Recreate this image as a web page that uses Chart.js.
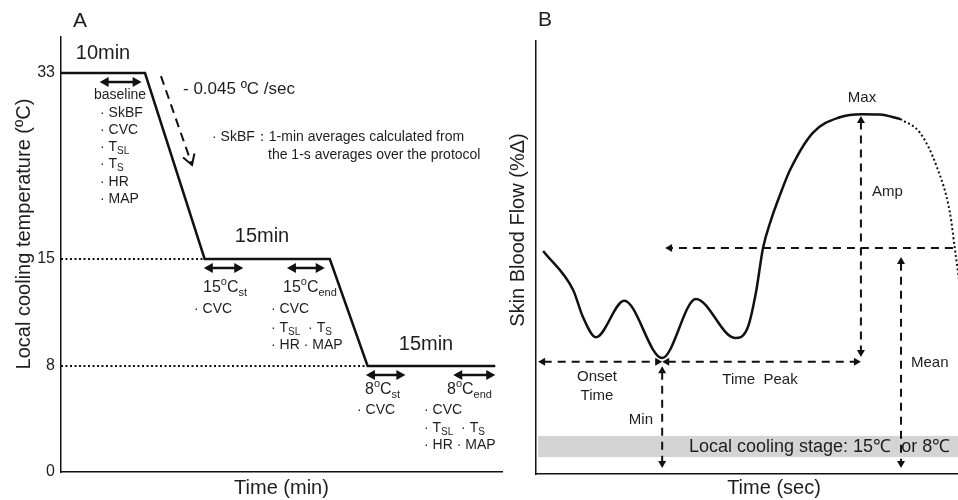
<!DOCTYPE html>
<html>
<head>
<meta charset="utf-8">
<script src="https://cdn.jsdelivr.net/npm/chart.js@4.4.1/dist/chart.umd.min.js"></script>
<style>
  html, body { margin: 0; padding: 0; background: #fff; overflow: hidden; }
  #wrap { position: relative; width: 958px; height: 500px; overflow: hidden; }
  #cA { position: absolute; left: 0; top: 0; }
  #cB { position: absolute; left: 478px; top: 0; }
</style>
</head>
<body>
<div id="wrap">
  <canvas id="cA" width="510" height="500"></canvas>
  <canvas id="cB" width="534" height="500"></canvas>
</div>
<script>
// ---- Panel A: local cooling protocol ----
const protoTime = [0, 10, 17.1, 32, 36.5, 51.7]      // min
const protoTemp = [33, 33, 15, 15, 8, 8]             // °C
const tempTicks = [0, 8, 15, 33]
const guideTemp = [15, 8]                            // dotted guides to the axis
const guideEnd = [17.1, 36.5]
const windowStart = [4.6, 17.0, 26.9, 36.3, 46.7]    // averaging windows (min)
const windowEnd = [9.6, 21.7, 31.4, 41.0, 51.7]
const windowTemp = [33, 15, 15, 8, 8]
const rampFrom = [11.9, 32.7]                         // "-0.045 °C/sec" arrow
const rampTo = [15.6, 24.1]

// ---- Panel B: skin blood flow response (schematic units) ----
const flowTime = [1.7, 8.8, 11.1, 14.2, 20.9, 29.9, 37.9, 47.2, 50.2, 52.1, 53.8, 55.7, 57.8, 60.2, 65.6, 72.0, 77.3, 81.5, 86.3]
const flowValue = [51.5, 42.5, 36.3, 31.6, 40.0, 26.8, 40.4, 31.4, 33.9, 41.8, 52.2, 58.7, 64.4, 70.2, 78.8, 82.4, 83.1, 83.0, 82.0]
const fadeTime = [86.3, 91.0, 95.0, 98.1, 99.3, 100.9]
const fadeValue = [82.0, 78.8, 70.9, 60.3, 51.7, 40.2]
const onsetX = 0.5, minX = 29.9, peakX = 77.0, meanX = 86.5
const timeY = 25.9, minTop = 24.9, floorY = 1.4
const ampTop = 82.7, ampBottom = 27.0
const meanY = 52.2, meanFrom = 98.8, meanTo = 30.6, meanTop = 50.1
const bandLow = 3.9, bandHigh = 8.8

const FONT = '"Liberation Sans", Arial, sans-serif'
const INK = "#1e1e1e"
Chart.defaults.font.family = FONT
Chart.defaults.color = INK

// schematic (non-linear) temperature axis
const stepStops = [0, 8, 15, 33, 36]
const stepFracs = [0, 0.2437, 0.4897, 0.9172, 1]
class StepScale extends Chart.LinearScale {
  static id = "step"
  static defaults = {}
  getPixelForValue(v) {
    if (v === null || isNaN(v)) return NaN
    let d = stepFracs[stepFracs.length - 1]
    if (v <= stepStops[0]) d = stepFracs[0]
    else {
      for (let i = 1; i < stepStops.length; i++) {
        if (v <= stepStops[i]) {
          d = stepFracs[i - 1] + (v - stepStops[i - 1]) / (stepStops[i] - stepStops[i - 1]) * (stepFracs[i] - stepFracs[i - 1])
          break
        }
      }
    }
    return this.getPixelForDecimal(d)
  }
}
Chart.register(StepScale)

// text with _{sub} and ^{sup}
function rich(ctx, str, x, y, size, align) {
  const segs = []
  const re = /([_^])\{([^}]*)\}|([^_^]+)/g
  let m
  while ((m = re.exec(str))) {
    if (m[3]) segs.push({ t: m[3], k: 0 })
    else segs.push({ t: m[2], k: m[1] === "_" ? 1 : -1 })
  }
  const f = (k) => (k ? Math.round(size * 0.68) : size) + "px " + FONT
  let w = 0
  segs.forEach((s) => { ctx.font = f(s.k); s.w = ctx.measureText(s.t).width; w += s.w })
  let cx = align === "center" ? x - w / 2 : align === "right" ? x - w : x
  ctx.textAlign = "left"
  ctx.textBaseline = "middle"
  ctx.fillStyle = INK
  segs.forEach((s) => {
    ctx.font = f(s.k)
    ctx.fillText(s.t, cx, y + (s.k > 0 ? size * 0.3 : s.k < 0 ? -size * 0.4 : 0))
    cx += s.w
  })
}

function vTitle(ctx, text, x, y, size) {
  ctx.save()
  ctx.translate(x, y)
  ctx.rotate(-Math.PI / 2)
  ctx.font = size + "px " + FONT
  ctx.textAlign = "center"
  ctx.textBaseline = "middle"
  ctx.fillStyle = INK
  ctx.fillText(text, 0, 0)
  ctx.restore()
}

function head(ctx, x, y, a, L, H, open) {
  const bx = x - L * Math.cos(a), by = y - L * Math.sin(a)
  const px = -Math.sin(a) * H, py = Math.cos(a) * H
  ctx.beginPath()
  ctx.moveTo(bx + px, by + py)
  ctx.lineTo(x, y)
  ctx.lineTo(bx - px, by - py)
  if (open) ctx.stroke()
  else { ctx.closePath(); ctx.fill() }
}

function arrow(ctx, x1, y1, x2, y2, o) {
  const a = Math.atan2(y2 - y1, x2 - x1)
  const L = o.len || 8, H = o.half || 4
  const cut = o.open ? 0 : L * 0.8
  const s = o.start ? cut : 0, e = o.end ? cut : 0
  ctx.strokeStyle = "#111"
  ctx.fillStyle = "#111"
  ctx.lineWidth = o.width || 2
  ctx.setLineDash(o.dash || [])
  ctx.beginPath()
  ctx.moveTo(x1 + s * Math.cos(a), y1 + s * Math.sin(a))
  ctx.lineTo(x2 - e * Math.cos(a), y2 - e * Math.sin(a))
  ctx.stroke()
  ctx.setLineDash([])
  if (o.end) head(ctx, x2, y2, a, L, H, o.open)
  if (o.start) head(ctx, x1, y1, a + Math.PI, L, H, o.open)
}

// labels: [text, x, y, size, align] in page pixels
const labelsA = [
  ["A", 80, 21, 21, "center"],
  ["10min", 103, 53, 20, "center"],
  ["baseline", 120, 95, 14, "center"],
  ["· SkBF", 100, 113, 14, "left"],
  ["· CVC", 100, 130, 14, "left"],
  ["· T_{SL}", 100, 147, 14, "left"],
  ["· T_{S}", 100, 164, 14, "left"],
  ["· HR", 100, 182, 14, "left"],
  ["· MAP", 100, 199, 14, "left"],
  ["- 0.045 ºC /sec", 183, 89, 17, "left"],
  ["· SkBF：1-min averages calculated from", 212, 137, 14, "left"],
  ["the 1-s averages over the protocol", 268, 155, 14, "left"],
  ["15min", 262, 236, 20, "center"],
  ["15^{o}C_{st}", 203, 288, 16, "left"],
  ["· CVC", 194, 309, 14, "left"],
  ["15^{o}C_{end}", 283, 288, 16, "left"],
  ["· CVC", 271, 309, 14, "left"],
  ["· T_{SL}  · T_{S}", 271, 328, 14, "left"],
  ["· HR · MAP", 271, 345, 14, "left"],
  ["15min", 426, 344, 20, "center"],
  ["8^{o}C_{st}", 365, 390, 16, "left"],
  ["· CVC", 357, 410, 14, "left"],
  ["8^{o}C_{end}", 447, 390, 16, "left"],
  ["· CVC", 424, 410, 14, "left"],
  ["· T_{SL}  · T_{S}", 424, 428, 14, "left"],
  ["· HR · MAP", 424, 445, 14, "left"],
]
const labelsB = [
  ["B", 545, 20, 21, "center"],
  ["Max", 862, 98, 15, "center"],
  ["Amp", 872, 192, 15, "left"],
  ["Mean", 911, 363, 15, "left"],
  ["Onset", 597, 377, 15, "center"],
  ["Time", 597, 396, 15, "center"],
  ["Time  Peak", 760, 380, 15, "center"],
  ["Min", 653, 420, 15, "right"],
  ["Local cooling stage: 15℃  or 8℃", 689, 447, 18, "left"],
]

const panelA = {
  id: "panelA",
  afterDatasetsDraw(chart) {
    const { ctx, scales: { x, y } } = chart
    ctx.save()
    windowStart.forEach((s, i) => {
      const py = y.getPixelForValue(windowTemp[i]) + 9
      arrow(ctx, x.getPixelForValue(s), py, x.getPixelForValue(windowEnd[i]), py,
        { start: true, end: true, width: 2.5, len: 9, half: 5 })
    })
    arrow(ctx, x.getPixelForValue(rampFrom[0]), y.getPixelForValue(rampFrom[1]),
      x.getPixelForValue(rampTo[0]), y.getPixelForValue(rampTo[1]),
      { end: true, open: true, dash: [9, 6], width: 2, len: 10, half: 6 })
    labelsA.forEach(([t, px, py, s, al]) => rich(ctx, t, px, py, s, al))
    vTitle(ctx, "Local cooling temperature (ºC)", 24, 234, 20)
    ctx.restore()
  },
}

const panelB = {
  id: "panelB",
  beforeDatasetsDraw(chart) {
    const { ctx, scales: { x, y } } = chart
    ctx.save()
    ctx.fillStyle = "#d4d4d4"
    const x0 = x.getPixelForValue(onsetX), y0 = y.getPixelForValue(bandHigh)
    ctx.fillRect(x0, y0, x.right - x0, y.getPixelForValue(bandLow) - y0)
    ctx.restore()
  },
  afterDatasetsDraw(chart) {
    const { ctx, scales: { x, y } } = chart
    const X = (v) => x.getPixelForValue(v), Y = (v) => y.getPixelForValue(v)
    const d = { dash: [8, 6], width: 2, len: 7, half: 4 }
    ctx.save()
    arrow(ctx, X(onsetX), Y(timeY), X(minX), Y(timeY), { ...d, start: true, end: true })
    arrow(ctx, X(minX), Y(timeY), X(peakX), Y(timeY), { ...d, start: true, end: true })
    arrow(ctx, X(minX), Y(minTop), X(minX), Y(floorY), { ...d, start: true, end: true })
    arrow(ctx, X(peakX), Y(ampTop), X(peakX), Y(ampBottom), { ...d, start: true, end: true })
    arrow(ctx, X(meanFrom), Y(meanY), X(meanTo), Y(meanY), { ...d, end: true })
    arrow(ctx, X(meanX), Y(meanTop), X(meanX), Y(floorY), { ...d, start: true, end: true })
    ctx.translate(-478, 0)
    labelsB.forEach(([t, px, py, s, al]) => rich(ctx, t, px, py, s, al))
    vTitle(ctx, "Skin Blood Flow (%Δ)", 518, 230, 20)
    ctx.restore()
  },
}

const axisBase = {
  grid: { display: false, drawTicks: false },
  border: { display: true, color: "#111", width: 1.5 },
}

new Chart(document.getElementById("cA"), {
  type: "line",
  data: {
    datasets: [
      {
        data: protoTime.map((t, i) => ({ x: t, y: protoTemp[i] })),
        borderColor: "#111",
        borderWidth: 2.5,
        pointRadius: 0,
      },
      ...guideTemp.map((v, i) => ({
        data: [{ x: 0, y: v }, { x: guideEnd[i], y: v }],
        borderColor: "#111",
        borderWidth: 2,
        borderDash: [2, 2.5],
        pointRadius: 0,
      })),
    ],
  },
  options: {
    responsive: false,
    animation: false,
    events: [],
    layout: { padding: { top: 37, right: 8, left: 0, bottom: 0 } },
    plugins: { legend: { display: false }, tooltip: { enabled: false } },
    scales: {
      x: {
        ...axisBase,
        type: "linear",
        min: 0,
        max: 52.5,
        ticks: { display: false },
        title: { display: true, text: "Time (min)", font: { size: 20 }, padding: 0 },
        afterFit: (s) => { s.height = 28 },
      },
      y: {
        ...axisBase,
        type: "step",
        min: 0,
        max: 36,
        afterBuildTicks: (s) => { s.ticks = tempTicks.map((v) => ({ value: v })) },
        ticks: { font: { size: 16 }, padding: 6 },
        afterFit: (s) => { s.width = 61 },
      },
    },
  },
  plugins: [panelA],
})

new Chart(document.getElementById("cB"), {
  type: "line",
  data: {
    datasets: [
      {
        data: flowTime.map((t, i) => ({ x: t, y: flowValue[i] })),
        borderColor: "#111",
        borderWidth: 2.5,
        pointRadius: 0,
        cubicInterpolationMode: "monotone",
      },
      {
        data: fadeTime.map((t, i) => ({ x: t, y: fadeValue[i] })),
        borderColor: "#111",
        borderWidth: 2,
        borderDash: [2, 2.5],
        pointRadius: 0,
        cubicInterpolationMode: "monotone",
      },
    ],
  },
  options: {
    responsive: false,
    animation: false,
    events: [],
    layout: { padding: { top: 41, right: 0, left: 0, bottom: 0 } },
    plugins: { legend: { display: false }, tooltip: { enabled: false } },
    scales: {
      x: {
        ...axisBase,
        type: "linear",
        min: 0,
        max: 112.8,
        ticks: { display: false },
        title: { display: true, text: "Time (sec)", font: { size: 20 }, padding: 0 },
        afterFit: (s) => { s.height = 26 },
      },
      y: {
        ...axisBase,
        type: "linear",
        min: 0,
        max: 100,
        ticks: { display: false },
        afterFit: (s) => { s.width = 58 },
      },
    },
  },
  plugins: [panelB],
})
</script>
</body>
</html>
